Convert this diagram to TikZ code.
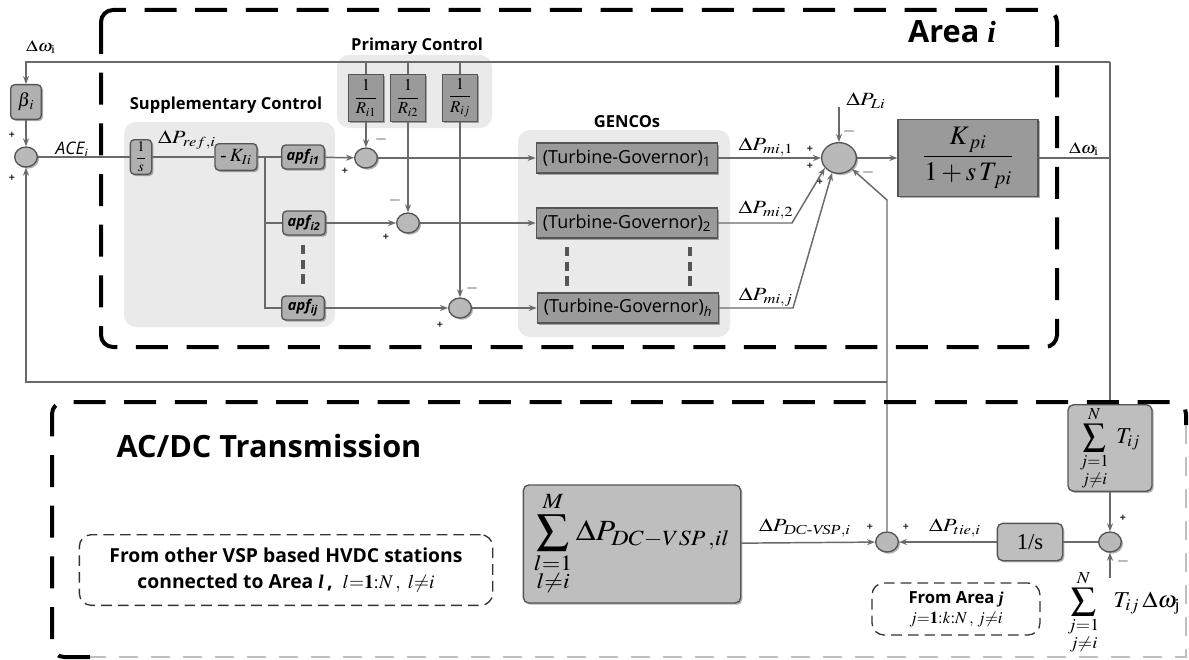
\documentclass[tikz,border=0pt]{standalone}
\usepackage{amsmath}
\usepackage{mathptmx}
\usepackage{fontspec}
\setmainfont{Liberation Serif}
\setsansfont{Open Sans}
\usetikzlibrary{arrows.meta,shapes.geometric,shadows,calc}

\definecolor{wirec}{HTML}{6A6A6A}
\definecolor{edgec}{HTML}{555555}
\definecolor{blockA}{HTML}{B0B0B0}
\definecolor{blockB}{HTML}{9A9A9A}
\definecolor{blockC}{HTML}{BEBEBE}
\definecolor{groupc}{HTML}{EAEAEA}
\definecolor{sumc}{HTML}{B9B9B9}

% horizontally widened math labels
\newcommand{\wide}[1]{\scalebox{1.2}[1]{#1}}

\tikzset{
  wire/.style={draw=wirec, line width=1.1pt},
  arr/.style={wire, -{Stealth[length=6pt,width=4.5pt]}},
  softshadow/.style={drop shadow={shadow xshift=1.3pt, shadow yshift=-1.3pt, opacity=0.3, fill=black}},
  blk/.style={draw=edgec, line width=1pt, fill=blockA, rounded corners=3pt, inner sep=1pt, softshadow},
  dblk/.style={draw=edgec, line width=1pt, fill=blockB, inner sep=1pt, softshadow},
  lblk/.style={draw=edgec, line width=1pt, fill=blockC, rounded corners=4pt, inner sep=1pt, softshadow},
  apfblk/.style={blk, minimum width=32pt, minimum height=18pt, inner sep=0pt, font=\sffamily\bfseries\itshape\fontsize{11}{12}\selectfont},
  rblk/.style={dblk, minimum width=26pt, minimum height=35pt, inner sep=0pt, font=\fontsize{12.5}{14}\selectfont},
  tgblk/.style={dblk, minimum width=136pt, minimum height=22.5pt, inner sep=0pt, font=\sffamily\fontsize{13.5}{16}\selectfont},
  sumn/.style={ellipse, draw=edgec, line width=1pt, fill=sumc, minimum width=17pt, minimum height=15pt, inner sep=0pt, softshadow},
  region/.style={draw=black, line width=3pt, dash pattern=on 24pt off 14pt, rounded corners=9pt},
  notebox/.style={draw=black!80, line width=1pt, dash pattern=on 8pt off 4.5pt, rounded corners=9pt, align=center, inner sep=2pt},
  grpfill/.style={fill=groupc, rounded corners=9pt},
  grptitle/.style={inner sep=0pt, font=\sffamily\bfseries\fontsize{12.4}{14}\selectfont},
  sig/.style={inner sep=0pt, font=\fontsize{14}{16}\selectfont},
  sgn/.style={inner sep=0pt, font=\sffamily\bfseries\fontsize{8}{8}\selectfont, text=black!85},
  sgnm/.style={inner sep=0pt, font=\fontsize{12}{12}\selectfont, text=black!85},
  vdash/.style={draw=edgec, line width=2.4pt, dash pattern=on 7pt off 4pt},
}

\begin{document}
\begin{tikzpicture}[x=0.75pt, y=-0.75pt]
\useasboundingbox (0,0) rectangle (1189,660);
\fill[white] (0,0) rectangle (1189,660);

% ---------- shaded groups ----------
\fill[grpfill] (124,122) rectangle (335,327);
\fill[grpfill] (337,55) rectangle (492,128);
\fill[grpfill] (518,130) rectangle (730,337);

\node[grptitle] (tsupp) at (226,105) {Supplementary Control};
\node[grptitle] (tprim) at (417,46) {Primary Control};
\node[grptitle] (tgen) at (627,122) {GENCOs};

% ---------- Area i blocks ----------
\node[sig, font=\fontsize{12}{14}\selectfont] (dw1) at (41,47) {\wide{$\Delta\omega_{\text{i}}$}};
\node[blk, minimum width=23pt, minimum height=26pt, font=\fontsize{14}{16}\selectfont] (beta) at (26,102) {$\beta_{\,i}$};
\node[sumn] (sA) at (26,157) {};
\node[inner sep=0pt, font=\sffamily\itshape\fontsize{13}{15}\selectfont] (ace) at (72,150) {ACE\textsubscript{\itshape i}};
\node[blk, minimum width=16pt, minimum height=26pt, inner sep=0pt, font=\fontsize{11}{12}\selectfont] (is1) at (141,157) {$\dfrac{1}{s}$};
\node[sig] (pref) at (187,140) {\wide{$\Delta P_{ref,i}$}};
\node[blk, minimum width=31.5pt, minimum height=20pt, font=\fontsize{14}{16}\selectfont] (kI) at (236,157) {-\,$K_{Ii}$};

\node[apfblk] (apf1) at (303,157) {apf\textsubscript{i1}};
\node[apfblk] (apf2) at (304,223) {apf\textsubscript{i2}};
\node[apfblk] (apfj) at (303,308) {apf\textsubscript{ij}};

\node[rblk] (R1) at (366,98) {$\dfrac{1}{R_{i1}}$};
\node[rblk] (R2) at (408,98) {$\dfrac{1}{R_{i2}}$};
\node[rblk] (Rj) at (460,98) {$\dfrac{1}{R_{ij}}$};

\node[sumn] (s1) at (366,158) {};
\node[sumn] (s2) at (408,223) {};
\node[sumn] (s3) at (460,308) {};

\node[tgblk] (tg1) at (627,158) {(Turbine-Governor)\textsubscript{1}};
\node[tgblk] (tg2) at (627,223) {(Turbine-Governor)\textsubscript{2}};
\node[tgblk] (tgh) at (628,308) {(Turbine-Governor)\textsubscript{\itshape h}};

\node[sig] (pm1) at (766,147) {\wide{$\Delta P_{mi,1}$}};
\node[sig] (pm2) at (766,210) {\wide{$\Delta P_{mi,2}$}};
\node[sig] (pmj) at (766,297) {\wide{$\Delta P_{mi,j}$}};
\node[sig] (pLi) at (866,101) {\wide{$\Delta P_{Li}$}};

\node[sumn, minimum width=26pt, minimum height=23pt] (sM) at (839,158) {};
\node[dblk, minimum width=105pt, minimum height=58pt, font=\fontsize{20}{22}\selectfont] (kp) at (968,158) {$\dfrac{K_{\,pi}}{1+s\,T_{\,pi}}$};
\node[sig, font=\fontsize{12}{14}\selectfont] (dw2) at (1084,149) {\wide{$\Delta\omega_{\text{i}}$}};
\node[inner sep=0pt, font=\fontsize{23}{26}\selectfont] (areaI) at (952,32) {\sffamily\bfseries Area \rmfamily\bfseries\itshape i};

% ---------- AC/DC transmission blocks ----------
\node[inner sep=0pt, font=\sffamily\bfseries\fontsize{23}{26}\selectfont] (acdc) at (269,446) {AC/DC Transmission};
\node[notebox, minimum width=310pt, minimum height=53pt, font=\sffamily\bfseries\fontsize{14.5}{19}\selectfont] (nvsp) at (286,570)
  {From other VSP based HVDC stations\\connected to Area {\rmfamily\itshape l}\,,\ \ {\mdseries$l{=}\mathbf{1}{:}N\,,\ l{\neq}i$}};
\node[lblk, minimum width=163pt, minimum height=88.5pt, font=\fontsize{22}{24}\selectfont] (sdp) at (632,544)
  {\scalebox{1.1}[1]{$\displaystyle\sum_{\substack{l=1\\ l\neq i}}^{M}\Delta P_{DC-VSP\,,il}$}};
\node[sig] (pdc) at (805,528) {\wide{$\Delta P_{\text{\itshape DC-VSP},i}$}};
\node[sumn] (sB) at (887,542) {};
\node[sig] (ptie) at (955,528) {\wide{$\Delta P_{tie,i}$}};
\node[lblk, minimum width=49pt, minimum height=28pt, font=\fontsize{17}{20}\selectfont] (is2) at (1030,542) {1/s};
\node[sumn] (sT) at (1110,542) {};
\node[lblk, minimum width=63pt, minimum height=63pt, font=\fontsize{17}{19}\selectfont] (st) at (1110,448)
  {$\displaystyle\sum_{\substack{j=1\\ j\neq i}}^{N}\; T_{ij}$};
\node[notebox, minimum width=126pt, minimum height=39pt, font=\sffamily\bfseries\fontsize{12.5}{15}\selectfont] (narea) at (956,609)
  {From Area {\rmfamily\itshape j}\\ {\mdseries$j{=}\mathbf{1}{:}k{:}N\,,\,j{\neq}i$}};
\node[inner sep=0pt, font=\fontsize{17}{19}\selectfont] (tsum) at (1124,612)
  {\scalebox{1.1}[1]{$\displaystyle\sum_{\substack{j=1\\ j\neq i}}^{N}\;\; T_{ij}\,\Delta\omega_{\text{j}}$}};

% ---------- junction points ----------
\coordinate (topR) at (1110,62);
\coordinate (topL) at (26,62);
\coordinate (kbr) at (265,157);
\coordinate (k2) at (792,223);
\coordinate (k3) at (793,308);
\coordinate (pl) at (839,107);
\coordinate (fbk) at (887,200);
\coordinate (fbj) at (887,382);
\coordinate (fbl) at (26,382);
\coordinate (tin) at (1110,578);

% ---------- connectors ----------
\draw[wire] (kp.east) -- (kp.east -| topR);
\draw[arr] (topR) -- (topL) -- (beta.north);
\draw[wire] (topR) -- (st.north);
\draw[wire] (R1.north) -- (R1.north |- topR);
\draw[wire] (R2.north) -- (R2.north |- topR);
\draw[wire] (Rj.north) -- (Rj.north |- topR);

\draw[arr] (beta) -- (sA);
\draw[wire] (sA) -- (is1);
\draw[wire] (is1) -- (kI);
\draw[wire] (kI.east) -- (apf1.west);
\draw[wire] (kbr) |- (apf2.west);
\draw[wire] (kbr) |- (apfj.west);

\draw[arr] (apf1) -- (s1);
\draw[arr] (apf2) -- (s2);
\draw[arr] (apfj) -- (s3);
\draw[arr] (R1.south) -- (s1.north);
\draw[arr] (R2.south) -- (s2.north);
\draw[arr] (Rj.south) -- (s3.north);
\draw[arr] (s1) -- (tg1);
\draw[arr] (s2) -- (tg2);
\draw[arr] (s3) -- (tgh);

\draw[arr] (tg1) -- (sM);
\draw[arr] (tg2.east) -- (k2) -- (sM.215);
\draw[arr] (tgh.east) -- (k3) -- (sM.245);
\draw[arr] (pl) -- (sM.north);
\draw[arr] (sM) -- (kp);

\draw[arr] (sB.north) -- (fbk) -- (sM.-40);
\draw[arr] (fbj) -- (fbl) -- (sA.south);

\draw[arr] (st.south) -- (sT.north);
\draw[arr] (tin) -- (sT.south);
\draw[wire] (sT) -- (is2);
\draw[arr] (is2) -- (sB);
\draw[arr] (sdp) -- (sB);

% stacked-branch ellipses
\draw[vdash] (303,245) -- (303,287);
\draw[vdash] (567,247) -- (567,288);
\draw[vdash] (690,247) -- (690,288);

% ---------- signs ----------
\node[sgn] at (12,135) {+};
\node[sgn] at (12,178) {+};
\node[sgn] at (345,171) {+};
\node[sgnm] at (381,139) {$-$};
\node[sgn] at (386,237) {+};
\node[sgnm] at (395,200) {$-$};
\node[sgn] at (440,325) {+};
\node[sgnm] at (472,288) {$-$};
\node[sgn] at (810,149) {+};
\node[sgn] at (810,166) {+};
\node[sgn] at (820,182) {+};
\node[sgnm] at (849,132) {$-$};
\node[sgnm] at (868,172) {$-$};
\node[sgn] at (870,527) {+};
\node[sgn] at (906,527) {+};
\node[sgn] at (1123,518) {+};
\node[sgnm] at (1123,561) {$-$};

% ---------- dashed region outlines ----------
\draw[region] (101,10) rectangle (1057,347);
\draw[region] (90,657) -- (52,657) -- (52,402) -- (1186,402) -- (1186,425);
\draw[draw=black!25, line width=1.5pt, dash pattern=on 14pt off 10pt] (1186,425) -- (1186,657) -- (90,657);
\end{tikzpicture}
\end{document}
